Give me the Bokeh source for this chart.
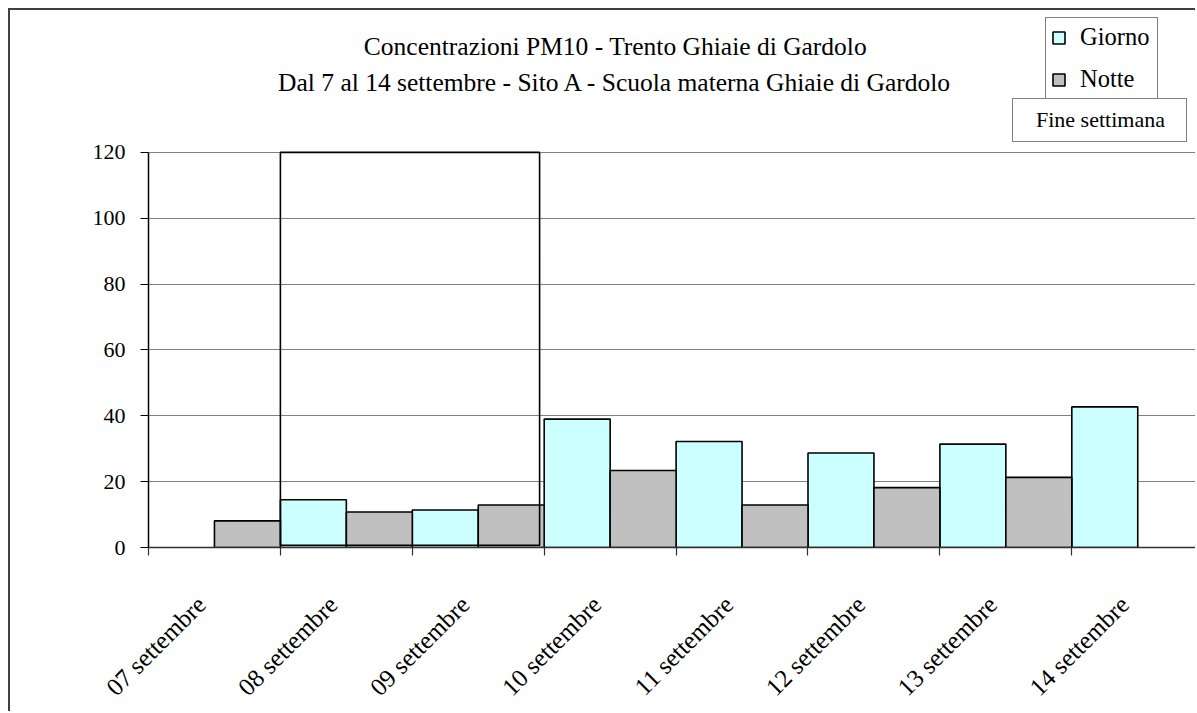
from bokeh.plotting import figure
from bokeh.models import (Range1d, FixedTicker, LinearAxis, Legend, LegendItem,
                          Label, Grid, ColumnDataSource)
from bokeh.embed import file_html
from bokeh.resources import INLINE

# ---------------- data ----------------
date_labels = ["07 settembre", "08 settembre", "09 settembre", "10 settembre",
               "11 settembre", "12 settembre", "13 settembre", "14 settembre"]
giorno = [None, 14.5, 11.4, 39.0, 32.2, 28.7, 31.4, 42.7]   # day (first half of each date)
notte = [8.1, 10.8, 12.9, 23.4, 12.9, 18.2, 21.3, None]     # night (second half of each date)
weekend_days = [1, 2.965]      # 08-09 settembre (sabato/domenica)
weekend_level = [0.7, 120]
y_ticks = [0, 20, 40, 60, 80, 100, 120]
title_lines = ["Concentrazioni PM10 - Trento Ghiaie di Gardolo",
               "Dal 7 al 14 settembre - Sito A - Scuola materna Ghiaie di Gardolo"]

FONT = "Liberation Serif"
DAY_COLOR = "#CCFFFF"
NIGHT_COLOR = "#C0C0C0"

# ---------------- sources ----------------
day_idx = [i for i, v in enumerate(giorno) if v is not None]
night_idx = [i for i, v in enumerate(notte) if v is not None]
day_src = ColumnDataSource(dict(left=[i for i in day_idx], right=[i + 0.5 for i in day_idx],
                                top=[giorno[i] for i in day_idx], bottom=[0] * len(day_idx)))
night_src = ColumnDataSource(dict(left=[i + 0.5 for i in night_idx], right=[i + 1 for i in night_idx],
                                  top=[notte[i] for i in night_idx], bottom=[0] * len(night_idx)))

# frame spans the whole chart height above the x axis (room for titles/legend)
p = figure(width=1187, height=703, x_range=Range1d(0, 7.953), y_range=Range1d(0, 163.1),
           output_backend="svg", toolbar_location=None,
           x_axis_location=None, y_axis_location=None,
           min_border_left=138, min_border_right=0, min_border_top=0, min_border_bottom=166)
p.grid.visible = False
p.outline_line_color = None
p.background_fill_color = "white"
p.border_fill_color = "white"
p.styles = {"margin-left": "8px", "margin-top": "8px",
            "border-left": "2px solid #404040", "border-top": "2px solid #404040"}

# gridlines
p.add_layout(Grid(dimension=1, ticker=FixedTicker(ticks=y_ticks[1:]),
                  grid_line_color="#808080", grid_line_width=1.2))

# bars
r_day = p.quad(left="left", right="right", top="top", bottom="bottom", source=day_src,
               fill_color=DAY_COLOR, line_color="black", line_width=1.6)
r_night = p.quad(left="left", right="right", top="top", bottom="bottom", source=night_src,
                 fill_color=NIGHT_COLOR, line_color="black", line_width=1.6)
# weekend frame
r_we = p.quad(left=[weekend_days[0]], right=[weekend_days[1]], bottom=[weekend_level[0]],
              top=[weekend_level[1]], fill_color=None, line_color="black", line_width=1.6)
r_dummy = p.quad(left=[], right=[], bottom=[], top=[], fill_alpha=0, line_alpha=0)

# y axis
yax = LinearAxis(ticker=FixedTicker(ticks=y_ticks), bounds=(y_ticks[0], y_ticks[-1]),
                 axis_line_color="black", axis_line_width=1.5,
                 major_tick_line_color="black", major_tick_out=8, major_tick_in=0,
                 minor_tick_line_color=None,
                 major_label_text_font=FONT, major_label_text_font_size="22px",
                 major_label_text_color="black", major_label_standoff=15)
p.add_layout(yax, "left")

# x axis: tick marks at each date (minor), labels shifted to the right of each mark
label_shift = 0.40
label_pos = [i + label_shift for i in range(len(date_labels))]
xax = LinearAxis(ticker=FixedTicker(ticks=label_pos, minor_ticks=list(range(len(date_labels)))),
                 axis_line_color="#303030", axis_line_width=1.5,
                 major_tick_line_color=None, major_tick_out=0, major_tick_in=0,
                 minor_tick_line_color="#303030", minor_tick_out=8, minor_tick_in=0,
                 minor_tick_line_width=1.2,
                 major_label_overrides={pos: lab for pos, lab in zip(label_pos, date_labels)},
                 major_label_orientation=0.785398,
                 major_label_text_font=FONT, major_label_text_font_size="25px",
                 major_label_text_line_height=0.9,
                 major_label_text_color="black", major_label_standoff=45)
p.add_layout(xax, "below")

# titles
p.add_layout(Label(x=467, y=501, x_units="screen", y_units="screen", text=title_lines[0],
                   text_align="center", text_baseline="middle",
                   text_font=FONT, text_font_size="25.5px", text_color="black"))
p.add_layout(Label(x=467, y=465, x_units="screen", y_units="screen", text=title_lines[1],
                   text_align="center", text_baseline="middle",
                   text_font=FONT, text_font_size="25.5px", text_color="black"))

# legends
leg = Legend(items=[LegendItem(label="Giorno", renderers=[r_day]),
                    LegendItem(label="Notte", renderers=[r_night])],
             location=(897, 448), orientation="vertical",
             glyph_width=15, glyph_height=15, label_standoff=14, padding=5, spacing=14,
             label_height=28, label_width=72, margin=0,
             label_text_font=FONT, label_text_font_size="24.5px", label_text_color="black",
             border_line_color="black", border_line_width=1.3,
             background_fill_color="white", background_fill_alpha=1)
p.add_layout(leg, "center")

leg2 = Legend(items=[LegendItem(label="Fine settimana", renderers=[r_dummy])],
              location=(864, 405), glyph_width=15, glyph_height=15, label_standoff=0,
              padding=8, label_width=142, margin=0,
              label_text_font=FONT, label_text_font_size="22px", label_text_color="black",
              border_line_color="black", border_line_width=1.3,
              background_fill_color="white", background_fill_alpha=1)
p.add_layout(leg2, "center")

open("out.html", "w").write(file_html(p, INLINE))
